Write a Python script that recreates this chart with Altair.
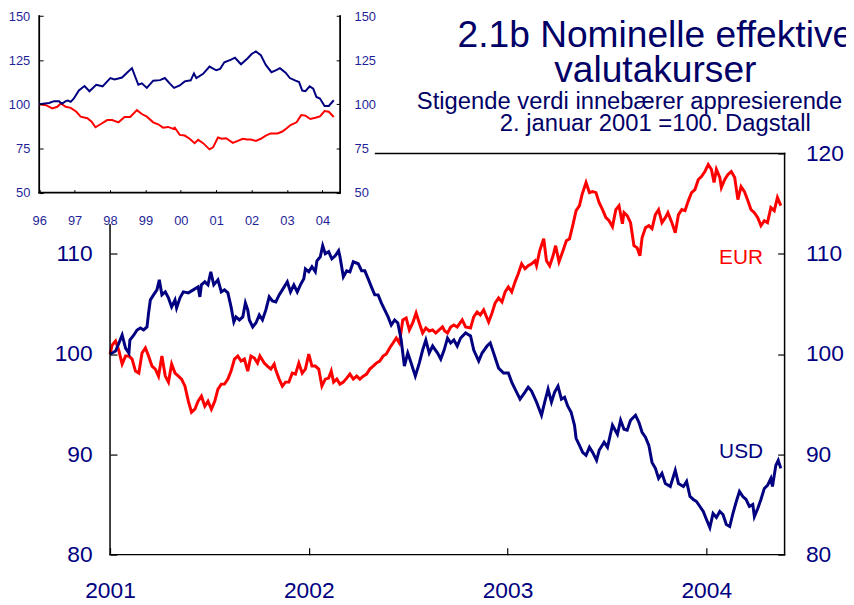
import altair as alt
import pandas as pd

# ---------------- main chart data (decimal year, index value) ----------------
usd_t = [2001.000, 2001.011, 2001.028, 2001.045, 2001.061, 2001.078, 2001.095, 2001.100, 2001.120, 2001.136,
         2001.153, 2001.169, 2001.186, 2001.194, 2001.203, 2001.219, 2001.236, 2001.248, 2001.261, 2001.278,
         2001.294, 2001.310, 2001.327, 2001.335, 2001.352, 2001.369, 2001.394, 2001.419, 2001.443, 2001.452,
         2001.460, 2001.477, 2001.493, 2001.507, 2001.522, 2001.543, 2001.560, 2001.576, 2001.593, 2001.609,
         2001.623, 2001.634, 2001.651, 2001.668, 2001.681, 2001.693, 2001.701, 2001.718, 2001.734, 2001.751,
         2001.767, 2001.784, 2001.801, 2001.817, 2001.834, 2001.851, 2001.867, 2001.892, 2001.908, 2001.925,
         2001.942, 2001.958, 2001.975, 2001.983, 2002.000, 2002.016, 2002.033, 2002.041, 2002.058, 2002.070,
         2002.083, 2002.100, 2002.116, 2002.133, 2002.150, 2002.157, 2002.174, 2002.191, 2002.207, 2002.224,
         2002.249, 2002.266, 2002.282, 2002.299, 2002.315, 2002.332, 2002.349, 2002.365, 2002.382, 2002.399,
         2002.415, 2002.432, 2002.448, 2002.465, 2002.481, 2002.498, 2002.515, 2002.536, 2002.556, 2002.573,
         2002.589, 2002.606, 2002.623, 2002.648, 2002.664, 2002.681, 2002.698, 2002.714, 2002.730, 2002.747,
         2002.764, 2002.789, 2002.814, 2002.830, 2002.855, 2002.872, 2002.897, 2002.913, 2002.930, 2002.955,
         2002.980, 2003.004, 2003.021, 2003.038, 2003.063, 2003.088, 2003.104, 2003.121, 2003.146, 2003.171,
         2003.187, 2003.204, 2003.221, 2003.237, 2003.254, 2003.271, 2003.287, 2003.303, 2003.320, 2003.337,
         2003.345, 2003.362, 2003.378, 2003.395, 2003.412, 2003.428, 2003.448, 2003.461, 2003.486, 2003.503,
         2003.528, 2003.553, 2003.569, 2003.586, 2003.602, 2003.619, 2003.644, 2003.661, 2003.677, 2003.694,
         2003.711, 2003.727, 2003.744, 2003.760, 2003.777, 2003.794, 2003.819, 2003.844, 2003.860, 2003.885,
         2003.901, 2003.918, 2003.935, 2003.951, 2003.968, 2003.985, 2004.001, 2004.018, 2004.034, 2004.051,
         2004.068, 2004.084, 2004.101, 2004.118, 2004.134, 2004.151, 2004.167, 2004.184, 2004.200, 2004.217,
         2004.234, 2004.242, 2004.259, 2004.275, 2004.292, 2004.308, 2004.325, 2004.333, 2004.350, 2004.362,
         2004.375]
usd_v = [100.0, 100.1, 100.3, 101.1, 101.9, 100.6, 100.1, 101.4, 101.9, 102.4,
         102.6, 102.4, 102.7, 104.1, 105.4, 105.9, 106.4, 107.4, 105.9, 106.2,
         105.6, 104.7, 105.4, 104.6, 105.6, 106.2, 106.1, 106.4, 106.7, 105.7,
         106.9, 107.2, 106.9, 108.2, 106.9, 107.4, 106.2, 106.4, 106.1, 104.7,
         103.2, 103.7, 103.4, 103.7, 105.1, 104.4, 103.4, 102.7, 103.1, 103.9,
         103.4, 104.4, 105.7, 105.3, 105.2, 105.9, 106.4, 107.2, 106.2, 106.9,
         106.2, 106.9, 107.5, 108.5, 108.2, 108.7, 108.2, 109.3, 109.7, 110.8,
         110.0, 110.2, 109.5, 109.8, 110.3, 109.7, 107.7, 108.3, 108.2, 109.2,
         109.0, 108.3, 108.3, 107.5, 106.7, 105.9, 105.9, 105.1, 104.4, 103.7,
         102.9, 103.4, 103.1, 101.4, 98.8, 100.1, 99.1, 97.8, 99.1, 100.4,
         101.4, 100.1, 100.8, 100.1, 99.5, 100.4, 101.6, 101.1, 101.4, 100.8,
         101.6, 102.1, 101.8, 100.4, 99.3, 100.1, 100.8, 101.1, 100.1, 98.6,
         98.1, 98.1, 97.2, 96.5, 95.5, 96.2, 96.7, 96.3, 95.2, 93.9,
         95.2, 96.5, 95.2, 96.2, 96.8, 95.5, 95.7, 94.8, 94.2, 92.9,
         91.6, 90.9, 90.2, 89.9, 90.7, 90.2, 89.4, 90.4, 91.2, 90.7,
         92.9, 92.0, 93.4, 92.5, 92.4, 93.4, 93.9, 93.2, 92.2, 91.7,
         90.9, 89.2, 88.6, 87.6, 88.1, 87.1, 86.8, 88.4, 87.1, 86.8,
         87.3, 85.8, 85.5, 85.3, 84.8, 84.3, 83.5, 82.7, 84.1, 83.7,
         84.3, 84.0, 83.0, 82.8, 84.1, 85.3, 86.3, 85.8, 85.5, 84.8,
         85.0, 83.8, 84.6, 85.5, 86.6, 86.9, 87.6, 86.8, 88.9, 89.4,
         88.6]

eur_t = [2001.000, 2001.011, 2001.028, 2001.045, 2001.061, 2001.078, 2001.095, 2001.111, 2001.128, 2001.145,
         2001.161, 2001.178, 2001.194, 2001.211, 2001.228, 2001.244, 2001.261, 2001.278, 2001.294, 2001.310,
         2001.327, 2001.344, 2001.360, 2001.377, 2001.394, 2001.410, 2001.427, 2001.443, 2001.460, 2001.477,
         2001.493, 2001.510, 2001.527, 2001.543, 2001.560, 2001.576, 2001.593, 2001.609, 2001.626, 2001.643,
         2001.659, 2001.676, 2001.693, 2001.709, 2001.726, 2001.742, 2001.754, 2001.776, 2001.792, 2001.809,
         2001.826, 2001.834, 2001.851, 2001.867, 2001.883, 2001.900, 2001.917, 2001.933, 2001.950, 2001.967,
         2001.983, 2002.000, 2002.016, 2002.033, 2002.050, 2002.066, 2002.083, 2002.100, 2002.113, 2002.125,
         2002.141, 2002.157, 2002.174, 2002.191, 2002.207, 2002.224, 2002.241, 2002.257, 2002.274, 2002.291,
         2002.307, 2002.324, 2002.340, 2002.357, 2002.374, 2002.390, 2002.407, 2002.424, 2002.440, 2002.456,
         2002.473, 2002.490, 2002.506, 2002.523, 2002.540, 2002.556, 2002.573, 2002.589, 2002.606, 2002.623,
         2002.639, 2002.656, 2002.673, 2002.684, 2002.698, 2002.714, 2002.730, 2002.747, 2002.772, 2002.789,
         2002.814, 2002.830, 2002.847, 2002.863, 2002.880, 2002.905, 2002.922, 2002.938, 2002.955, 2002.972,
         2002.988, 2003.004, 2003.021, 2003.038, 2003.054, 2003.071, 2003.088, 2003.104, 2003.121, 2003.138,
         2003.146, 2003.162, 2003.182, 2003.196, 2003.212, 2003.229, 2003.242, 2003.259, 2003.279, 2003.296,
         2003.312, 2003.328, 2003.345, 2003.362, 2003.375, 2003.395, 2003.412, 2003.428, 2003.445, 2003.461,
         2003.478, 2003.495, 2003.511, 2003.528, 2003.545, 2003.561, 2003.578, 2003.586, 2003.602, 2003.619,
         2003.636, 2003.652, 2003.666, 2003.677, 2003.694, 2003.711, 2003.727, 2003.744, 2003.760, 2003.777,
         2003.794, 2003.807, 2003.827, 2003.844, 2003.860, 2003.877, 2003.893, 2003.910, 2003.926, 2003.943,
         2003.960, 2003.976, 2003.993, 2004.010, 2004.026, 2004.039, 2004.051, 2004.068, 2004.076, 2004.093,
         2004.109, 2004.126, 2004.143, 2004.159, 2004.175, 2004.192, 2004.209, 2004.225, 2004.242, 2004.259,
         2004.275, 2004.292, 2004.308, 2004.325, 2004.342, 2004.358, 2004.375]
eur_v = [100.0, 100.9, 101.3, 100.3, 99.0, 99.8, 99.8, 99.5, 98.3, 98.1,
         100.1, 100.6, 99.8, 98.8, 98.5, 97.8, 99.8, 97.8, 97.2, 99.0,
         98.1, 97.8, 97.5, 96.8, 95.3, 94.2, 94.5, 95.3, 95.8, 94.8,
         95.3, 94.5, 95.3, 96.5, 97.0, 97.0, 97.5, 98.3, 99.5, 99.8,
         99.3, 99.5, 98.3, 99.8, 99.6, 99.1, 99.8, 99.1, 98.8, 98.5,
         99.0, 98.4, 97.5, 96.8, 97.2, 97.2, 98.1, 98.0, 99.1, 98.1,
         98.5, 100.0, 98.8, 98.8, 98.5, 96.8, 97.5, 97.6, 98.3, 97.2,
         97.5, 97.0, 97.2, 97.6, 98.0, 97.5, 97.8, 97.5, 97.8, 98.0,
         98.5, 98.8, 99.1, 99.3, 99.8, 100.0, 100.6, 101.1, 101.6, 101.1,
         103.4, 103.6, 102.4, 103.1, 104.1, 103.1, 102.1, 102.6, 102.3, 102.4,
         102.1, 102.4, 102.7, 102.3, 102.1, 102.7, 102.9, 102.7, 103.4, 102.7,
         102.6, 103.7, 104.2, 103.9, 104.4, 103.2, 104.1, 105.1, 105.6, 105.2,
         106.2, 106.7, 106.2, 107.2, 108.0, 109.0, 108.5, 108.8, 109.0, 109.3,
         108.8, 110.3, 111.5, 109.3, 108.8, 109.8, 110.8, 109.2, 110.3, 111.3,
         111.5, 112.8, 114.3, 114.8, 115.9, 117.1, 116.1, 116.2, 116.1, 115.1,
         114.4, 113.6, 113.3, 112.7, 114.4, 114.8, 113.0, 114.1, 113.8, 113.1,
         110.8, 110.6, 109.8, 111.6, 112.6, 112.8, 112.5, 113.9, 114.4, 113.1,
         113.6, 114.1, 113.1, 112.1, 113.9, 114.4, 114.3, 115.3, 116.1, 116.4,
         117.4, 117.7, 118.2, 118.9, 118.4, 117.1, 118.4, 117.6, 116.6, 117.4,
         117.9, 118.2, 117.6, 115.4, 116.7, 116.2, 115.3, 114.4, 114.1, 113.6,
         112.8, 113.3, 113.1, 114.6, 114.3, 115.6, 114.8]

# ---------------- inset data (1996-2004) ----------------
in_usd_t = [1996.00, 1996.28, 1996.42, 1996.56, 1996.64, 1996.75, 1996.81, 1996.89, 1996.98, 1997.12,
            1997.28, 1997.42, 1997.61, 1997.79, 1998.01, 1998.13, 1998.34, 1998.48, 1998.62, 1998.80,
            1998.90, 1999.04, 1999.22, 1999.41, 1999.55, 1999.69, 1999.81, 1999.97, 2000.11, 2000.28,
            2000.37, 2000.44, 2000.63, 2000.81, 2001.00, 2001.11, 2001.23, 2001.42, 2001.53, 2001.70,
            2001.89, 2002.00, 2002.12, 2002.26, 2002.40, 2002.56, 2002.68, 2002.80, 2002.96, 2003.08,
            2003.24, 2003.34, 2003.43, 2003.52, 2003.64, 2003.74, 2003.83, 2003.93, 2004.06, 2004.18,
            2004.32]
in_usd_v = [100.0, 100.8, 101.8, 101.8, 100.3, 101.8, 102.1, 101.4, 103.3, 107.9,
            110.4, 107.4, 111.1, 110.2, 114.9, 114.1, 115.2, 117.9, 120.5, 111.1,
            111.9, 109.3, 113.4, 113.7, 114.9, 111.7, 109.3, 110.7, 113.0, 113.6,
            117.5, 114.9, 117.3, 121.4, 119.3, 120.1, 123.8, 125.3, 126.4, 122.7,
            126.1, 128.5, 130.0, 127.9, 122.3, 118.2, 119.2, 120.5, 117.9, 114.9,
            113.4, 112.6, 107.8, 107.4, 110.2, 108.9, 104.2, 103.3, 99.0, 99.1,
            102.3]
in_eur_t = [1996.00, 1996.19, 1996.37, 1996.51, 1996.61, 1996.75, 1996.89, 1997.05, 1997.17, 1997.36,
            1997.48, 1997.59, 1997.73, 1997.92, 1998.06, 1998.24, 1998.41, 1998.57, 1998.76, 1998.90,
            1999.04, 1999.22, 1999.36, 1999.50, 1999.64, 1999.79, 1999.83, 1999.97, 2000.11, 2000.25,
            2000.39, 2000.49, 2000.63, 2000.81, 2000.91, 2001.05, 2001.16, 2001.28, 2001.47, 2001.61,
            2001.75, 2001.87, 2001.98, 2002.12, 2002.26, 2002.40, 2002.54, 2002.73, 2002.87, 2002.99,
            2003.10, 2003.27, 2003.40, 2003.52, 2003.66, 2003.80, 2003.93, 2004.06, 2004.18, 2004.32]
in_eur_v = [100.0, 99.5, 97.7, 98.6, 100.5, 98.6, 98.0, 95.8, 93.0, 92.1,
            90.2, 87.0, 88.7, 91.1, 91.1, 89.8, 92.8, 92.8, 96.7, 94.5,
            93.0, 89.8, 88.7, 86.8, 87.2, 86.1, 86.8, 82.7, 82.3, 80.5,
            78.0, 79.9, 78.0, 74.5, 75.6, 81.2, 80.5, 80.8, 78.2, 79.3,
            80.5, 80.1, 80.1, 79.3, 80.5, 82.3, 83.5, 83.5, 84.6, 86.4,
            88.3, 89.8, 93.9, 93.6, 91.7, 92.4, 93.2, 96.2, 95.8, 92.8]

series_names = ["EUR", "USD"]
series_colors = ["#ff0000", "#000080"]

label_names = ["EUR", "USD"]
label_t = [2004.175, 2004.175]
label_v = [109.6, 90.2]

main_ticks = [80, 90, 100, 110, 120]
main_years = [2001, 2002, 2003, 2004]
inset_ticks = [50, 75, 100, 125, 150]
inset_years = list(range(1996, 2005))

# ---------------- layout constants ----------------
W, H = 681, 405
MAIN_X = [2001.0, 2004.394]
MAIN_Y = [80, 120]
INSET_X = [1996.0, 2004.5]
INSET_Y = [50, 150]
INSET_XR = [-71.5, 232.3]
INSET_YR = [39.5, -138.7]

FONT = "Liberation Sans"
LABEL = "#000080"
ILABEL = "#1f1f99"

main_df = pd.concat([
    pd.DataFrame({"t": eur_t, "v": eur_v, "s": "EUR", "o": 0}),
    pd.DataFrame({"t": usd_t, "v": usd_v, "s": "USD", "o": 1}),
], ignore_index=True)
inset_df = pd.concat([
    pd.DataFrame({"t": in_eur_t, "v": in_eur_v, "s": "EUR", "o": 0}),
    pd.DataFrame({"t": in_usd_t, "v": in_usd_v, "s": "USD", "o": 1}),
], ignore_index=True)

color = alt.Color("s:N", scale=alt.Scale(domain=series_names, range=series_colors), legend=None)

mx = alt.Scale(domain=MAIN_X, nice=False, zero=False)
my = alt.Scale(domain=MAIN_Y, nice=False, zero=False)
ix = alt.Scale(domain=INSET_X, range=INSET_XR, nice=False, zero=False)
iy = alt.Scale(domain=INSET_Y, range=INSET_YR, nice=False, zero=False)

main_lines = alt.Chart(main_df).mark_line(strokeWidth=3).encode(
    x=alt.X("t:Q", scale=mx, axis=alt.Axis(
        orient="bottom", values=main_years, format="d", title=None, domain=False,
        offset=-7, tickSize=7, tickColor="black", tickWidth=1.2, labelPadding=25,
        labelFontSize=23, labelFont=FONT, labelColor=LABEL, labelFlush=False,
        labelOverlap=False, labelBound=False, grid=False)),
    y=alt.Y("v:Q", scale=my, axis=alt.Axis(
        orient="left", values=[80, 90, 100, 110], format="d", title=None, domain=False,
        offset=-7, tickSize=7, tickColor="black", tickWidth=1.2, labelPadding=18,
        labelFontSize=23, labelFont=FONT, labelColor=LABEL, labelFlush=False,
        labelOverlap=False, labelBound=False, grid=False)),
    color=color,
    detail="s:N",
    order="o:Q",
)

# main frame: left side stops below the inset, top side starts right of it
frame_df = pd.DataFrame({
    "t": [MAIN_X[0], MAIN_X[0], MAIN_X[1], 2002.336],
    "t2": [MAIN_X[0], MAIN_X[1], MAIN_X[1], MAIN_X[1]],
    "v": [MAIN_Y[0], MAIN_Y[0], MAIN_Y[0], MAIN_Y[1]],
    "v2": [112.9, MAIN_Y[0], MAIN_Y[1], MAIN_Y[1]],
})
main_frame = alt.Chart(frame_df).mark_rule(color="black", strokeWidth=1.5, strokeCap="square").encode(
    x=alt.X("t:Q", scale=mx, axis=None),
    x2="t2:Q",
    y=alt.Y("v:Q", scale=my, axis=alt.Axis(
        orient="right", values=main_ticks, format="d", title=None, domain=False,
        offset=-7, tickSize=7, tickColor="black", tickWidth=1.2, labelPadding=21,
        labelFontSize=23, labelFont=FONT, labelColor=LABEL, labelFlush=False,
        labelOverlap=False, labelBound=False, grid=False)),
    y2="v2:Q",
)

labels_df = pd.DataFrame({"t": label_t, "v": label_v, "s": label_names})
main_labels = alt.Chart(labels_df).mark_text(fontSize=21, font=FONT, align="center", baseline="middle").encode(
    x=alt.X("t:Q", scale=mx, axis=None),
    y=alt.Y("v:Q", scale=my, axis=None),
    text="s:N",
    color=alt.Color("s:N", scale=alt.Scale(domain=series_names, range=series_colors), legend=None),
)

inset_frame_df = pd.DataFrame({
    "t": [INSET_X[0], INSET_X[0], INSET_X[1]],
    "t2": [INSET_X[0], INSET_X[1], INSET_X[1]],
    "v": [INSET_Y[0], INSET_Y[0], INSET_Y[0]],
    "v2": [INSET_Y[1], INSET_Y[0], INSET_Y[1]],
})
inset_frame = alt.Chart(inset_frame_df).mark_rule(color="black", strokeWidth=1.8, strokeCap="square").encode(
    x=alt.X("t:Q", scale=ix, axis=None),
    x2="t2:Q",
    y=alt.Y("v:Q", scale=iy, axis=alt.Axis(
        orient="right", values=inset_ticks, format="d", title=None, domain=False,
        offset=-452.7, tickSize=4, tickColor="black", tickWidth=1, labelPadding=14,
        labelFontSize=13, labelFont=FONT, labelColor=ILABEL, labelFlush=False,
        labelOverlap=False, labelBound=False, grid=False, zindex=1)),
    y2="v2:Q",
)

inset_lines = alt.Chart(inset_df).mark_line(strokeWidth=2).encode(
    x=alt.X("t:Q", scale=ix, axis=alt.Axis(
        orient="bottom", values=inset_years, format="d", labelExpr="substring(datum.label, 2)",
        title=None, domain=False, offset=-368.5, tickSize=3, tickColor="black", tickWidth=1,
        labelPadding=22, labelFontSize=13, labelFont=FONT, labelColor=ILABEL, labelFlush=False,
        labelOverlap=False, labelBound=False, grid=False, zindex=1)),
    y=alt.Y("v:Q", scale=iy, axis=alt.Axis(
        orient="left", values=inset_ticks, format="d", title=None, domain=False,
        offset=67.5, tickSize=4, tickColor="black", tickWidth=1, labelPadding=9.5,
        labelFontSize=13, labelFont=FONT, labelColor=ILABEL, labelFlush=False,
        labelOverlap=False, labelBound=False, grid=False, zindex=1)),
    color=color,
    detail="s:N",
    order="o:Q",
)

chart = alt.layer(main_lines, main_frame, main_labels, inset_frame, inset_lines).resolve_scale(
    x="independent", y="independent", color="independent"
).properties(
    width=W,
    height=H,
    autosize=alt.AutoSizeParams(type="none"),
    padding={"left": 103, "top": 144, "right": 62, "bottom": 48},
    title=alt.TitleParams(
        text=["2.1b Nominelle effektive", "valutakurser"],
        subtitle=["Stigende verdi innebærer appresierende kurs", "2. januar 2001 =100. Dagstall"],
        orient="top", anchor="middle", frame="group", dx=210, offset=-127,
        font=FONT, fontSize=37.5, fontWeight="normal", lineHeight=35, color="#000066",
        subtitleFont=FONT, subtitleFontSize=24, subtitleLineHeight=22, subtitleColor="#000066",
        subtitlePadding=1,
    ),
).configure_view(stroke=None)

chart.save("out.html", embed_options={"renderer": "svg", "actions": False})
